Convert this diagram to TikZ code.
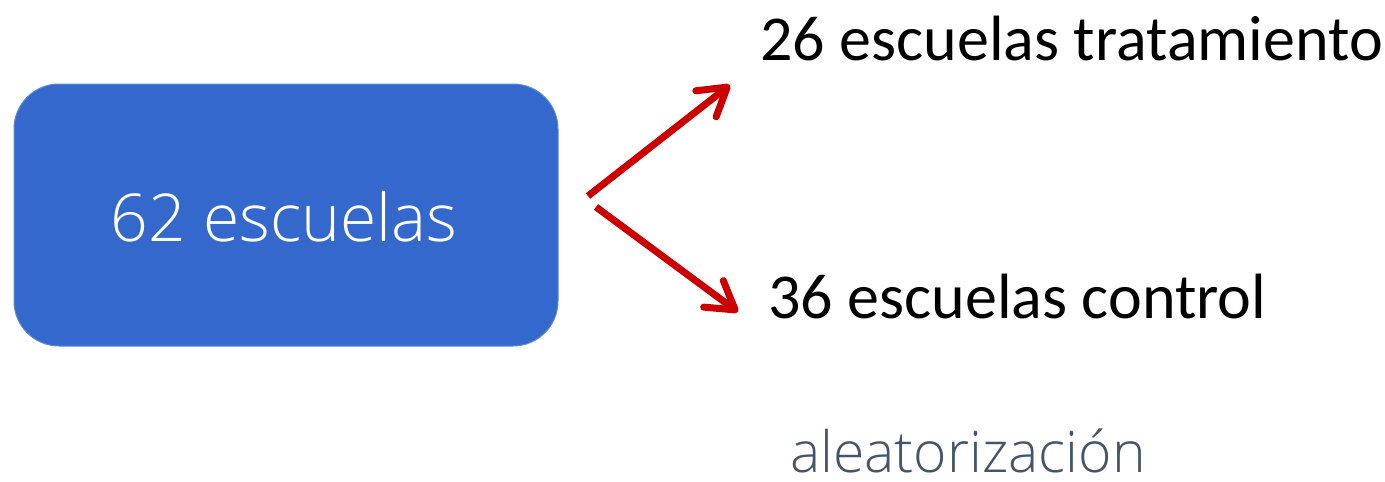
\documentclass[tikz,border=0pt]{standalone}
\usepackage{fontspec}
\usetikzlibrary{arrows.meta}
\setmainfont{Carlito}
\IfFontExistsTF{Open Sans Light}{\newfontfamily\lightfont{Open Sans Light}}{\newfontfamily\lightfont{Open Sans}}
\definecolor{boxblue}{HTML}{3468CC}
\definecolor{boxedge}{HTML}{5A8AD6}
\definecolor{arrred}{HTML}{CC0000}
\definecolor{slate}{HTML}{44546A}
\tikzset{
  bigbox/.style={draw=boxedge, line width=1pt, fill=boxblue, rounded corners=45pt,
    minimum width=544pt, minimum height=262pt, inner sep=0pt},
  boxtext/.style={font=\lightfont\fontsize{66}{70}\selectfont, text=white},
  outtext/.style={anchor=base west, inner sep=0pt, font=\fontsize{64}{68}\selectfont},
  redarrow/.style={draw=arrred, line width=7pt,
    -{Straight Barb[length=27pt,width=33pt,round]}},
  note/.style={anchor=base west, inner sep=0pt, text depth=0pt, text=slate, font=\lightfont\fontsize{57}{62}\selectfont}
}
\begin{document}
\begin{tikzpicture}[x=1pt,y=-1pt]
\useasboundingbox (0,0) rectangle (1385,482);
\node[bigbox] (box) at (286,215) {};
\node[boxtext] (boxlabel) at (284,217) {62 escuelas};
\node[outtext] (treat) at (760,60) {26 escuelas tratamiento};
\node[outtext] (ctrl) at (768,318) {36 escuelas control};
\node[note] (rand) at (790,472) {aleatorización};
\coordinate (s1) at (588,196);
\coordinate (t1) at (730,85);
\coordinate (s2) at (596,207);
\coordinate (t2) at (738,312);
\draw[redarrow] (s1) -- (t1);
\draw[redarrow] (s2) -- (t2);
\end{tikzpicture}
\end{document}
